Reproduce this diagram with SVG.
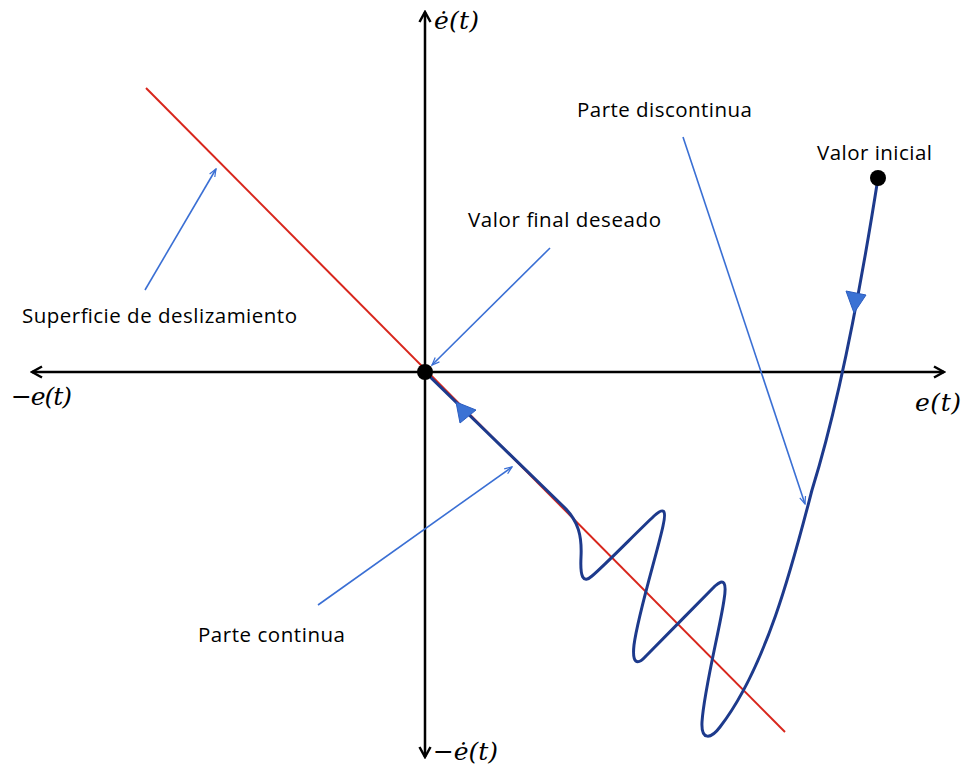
<svg xmlns="http://www.w3.org/2000/svg" width="965" height="767" viewBox="0 0 965 767">
<style>
.lbl{font-family:"Open Sans","Noto Sans",sans-serif;font-size:20.5px;fill:#000}
.math{font-family:"DejaVu Serif",serif;font-style:italic;font-size:25px;fill:#000}
.axis{stroke:#000;stroke-width:2.5;fill:none}
.ann{stroke:#3a6fd4;stroke-width:1.6;fill:none;marker-end:url(#open)}
.traj{stroke:#1d3a8c;stroke-width:3;fill:none;stroke-linejoin:round;stroke-linecap:round}
.head{fill:#3b72d4;stroke:#2b5cc0;stroke-width:1}
</style>
<defs>
<marker id="open" viewBox="0 0 12 10" refX="11" refY="5" markerWidth="9" markerHeight="8" markerUnits="userSpaceOnUse" orient="auto">
<path d="M1,1 L11,5 L1,9" fill="none" stroke="#3a6fd4" stroke-width="1.6"/>
</marker>
<marker id="ax" viewBox="0 0 14 14" refX="12" refY="7" markerWidth="14" markerHeight="14" markerUnits="userSpaceOnUse" orient="auto">
<path d="M2,1.5 L12,7 L2,12.5" fill="none" stroke="#000" stroke-width="2.5" stroke-linejoin="miter"/>
</marker>
</defs>
<rect width="965" height="767" fill="#fff"/>
<g id="axes">
<line class="axis" x1="425" y1="372" x2="425" y2="12" marker-end="url(#ax)"/>
<line class="axis" x1="425" y1="372" x2="425" y2="757" marker-end="url(#ax)"/>
<line class="axis" x1="425" y1="372" x2="944" y2="372" marker-end="url(#ax)"/>
<line class="axis" x1="425" y1="372" x2="32" y2="372" marker-end="url(#ax)"/>
<text class="math" x="434" y="29" textLength="45">ė(t)</text>
<text class="math" x="11" y="405" textLength="61">−e(t)</text>
<text class="math" x="915" y="411" textLength="46">e(t)</text>
<text class="math" x="433" y="760" textLength="65">−ė(t)</text>
</g>
<g id="sliding-surface">
<line x1="146" y1="88" x2="785" y2="732" stroke="#d8261c" stroke-width="2"/>
</g>
<g id="trajectory">
<path class="traj" d="M878,178 C 862,280 840,400 812,490 C 795,555 768,665 720,727 C 711,739 701,741 702,722 C 704,690 720,628 724,600 C 727,582 724,578 715,586 C 698,603 662,640 646,656 C 637,666 632,663 634,645 C 638,614 658,550 663,526 C 667,508 663,508 654,516 C 636,533 606,564 592,576 C 583,584 580,577 581,557 C 582,537 579,521 563,506 L 425,372"/>
<polygon class="head" points="854,313 846,291 866,295"/>
<polygon class="head" points="456,402 460,423 476,410"/>
</g>
<g id="origin">
<circle cx="425" cy="372" r="8" fill="#000"/>
</g>
<g id="initial">
<circle cx="878" cy="178" r="8" fill="#000"/>
</g>
<g id="connectors">
<line class="ann" x1="145" y1="290" x2="216" y2="169"/>
<line class="ann" x1="550" y1="248" x2="432" y2="365"/>
<line class="ann" x1="318" y1="605" x2="512" y2="467"/>
<line class="ann" x1="683" y1="137" x2="805" y2="504"/>
</g>
<g id="label-superficie"><text class="lbl" x="22" y="323" textLength="275">Superficie de deslizamiento</text></g>
<g id="label-final"><text class="lbl" x="468" y="227" textLength="193">Valor final deseado</text></g>
<g id="label-discontinua"><text class="lbl" x="577" y="117" textLength="175">Parte discontinua</text></g>
<g id="label-inicial"><text class="lbl" x="817" y="160" textLength="115">Valor inicial</text></g>
<g id="label-continua"><text class="lbl" x="198" y="642" textLength="147">Parte continua</text></g>
</svg>
